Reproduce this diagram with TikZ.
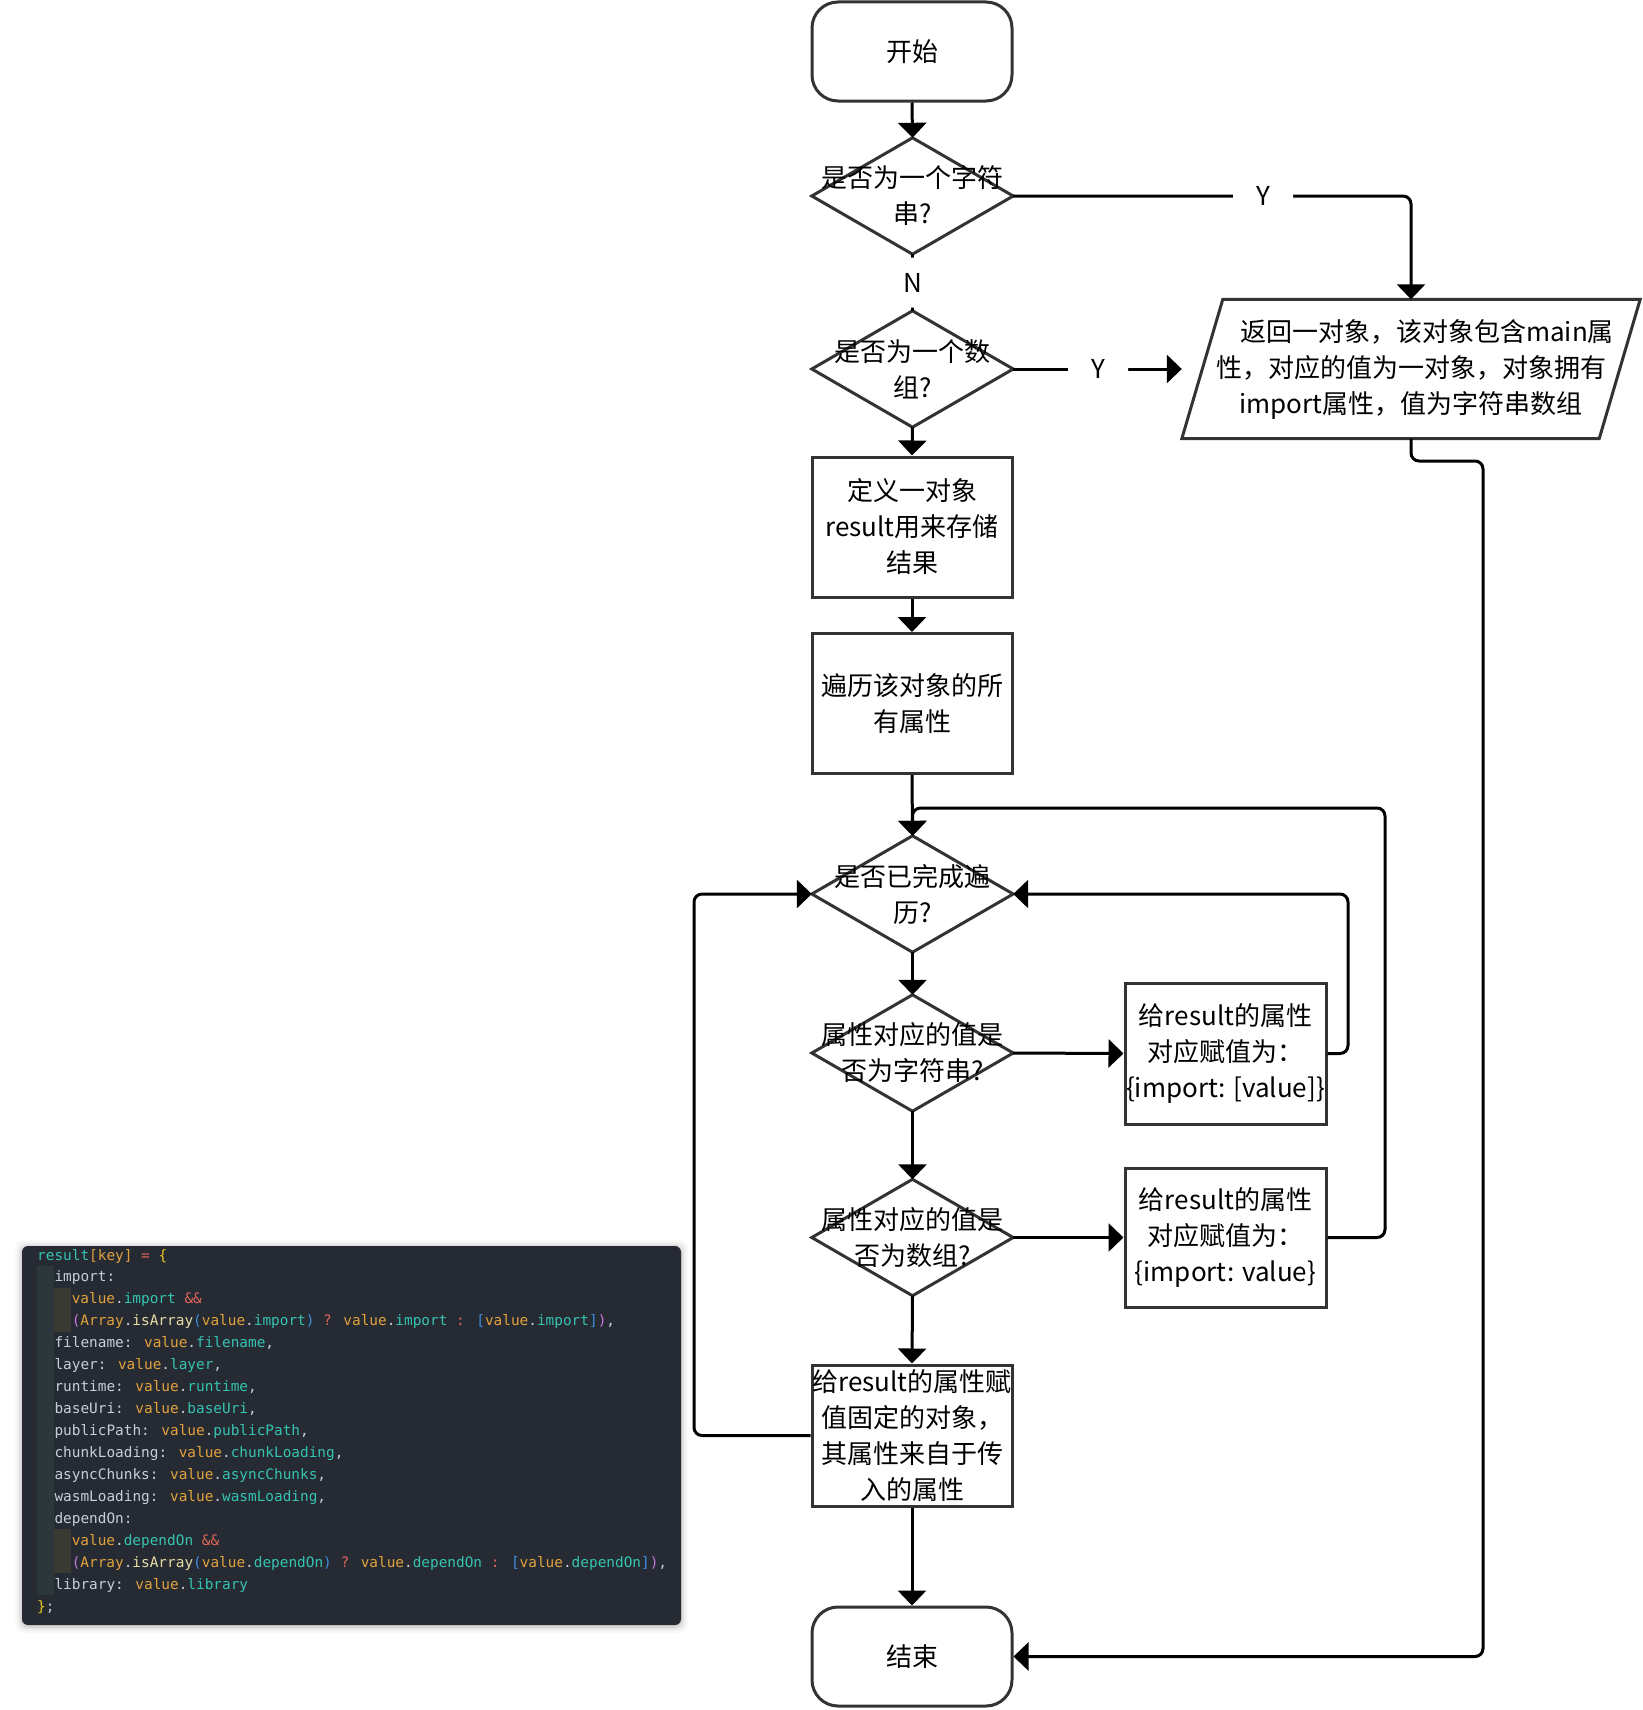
\documentclass[tikz,border=0pt]{standalone}
\usepackage{fontspec}
\newfontfamily\cjk{Noto Sans CJK SC}
\newfontfamily\codefont{DejaVu Sans Mono}
\usetikzlibrary{arrows.meta,calc,backgrounds}

\definecolor{edge}{HTML}{333333}
\definecolor{panel}{HTML}{262A33}
\definecolor{bandA}{HTML}{2C373C}
\definecolor{bandB}{HTML}{393B32}
\definecolor{kteal}{HTML}{35C3B2}
\definecolor{kgold}{HTML}{E2A23C}
\definecolor{kred}{HTML}{E0665A}
\definecolor{kmag}{HTML}{C678DD}
\definecolor{kblue}{HTML}{3D8FE0}
\definecolor{kyel}{HTML}{E8C51C}
\definecolor{kplain}{HTML}{C9CED6}
\definecolor{kcream}{HTML}{E9DDA6}

% token colours for the code listing
\newcommand{\ktl}[1]{\textcolor{kteal}{#1}}
\newcommand{\kgd}[1]{\textcolor{kgold}{#1}}
\newcommand{\krd}[1]{\textcolor{kred}{#1}}
\newcommand{\kmg}[1]{\textcolor{kmag}{#1}}
\newcommand{\kbl}[1]{\textcolor{kblue}{#1}}
\newcommand{\kyl}[1]{\textcolor{kyel}{#1}}
\newcommand{\kpl}[1]{\textcolor{kplain}{#1}}
\newcommand{\kcr}[1]{\textcolor{kcream}{#1}}

\begin{document}
\begin{tikzpicture}[x=1pt,y=-1pt,
  txt/.style={font=\cjk\fontsize{26}{36}\selectfont, align=center, inner sep=0pt},
  proc/.style={txt, draw=edge, line width=3pt, minimum width=200pt, minimum height=140pt, fill=white},
  term/.style={proc, rounded corners=26pt, minimum height=99pt},
  dec/.style={txt, minimum width=201pt, minimum height=116pt},
  shapeline/.style={draw=edge, line width=3pt},
  conn/.style={line width=3pt, black, rounded corners=8pt},
  arr/.style={conn, -{Triangle[width=28pt,length=15pt]}},
  lbl/.style={txt, fill=white},
  code/.style={anchor=base west, inner sep=0pt, font=\codefont\fontsize{14.4}{18}\selectfont, text=kplain}
]
\useasboundingbox (0,0) rectangle (1642,1710);

% ---------- code listing panel ----------
\foreach \k/\o in {7/0.025,5/0.035,3/0.05,1.5/0.07}
  \fill[black, opacity=\o, rounded corners=8pt] (22-\k,1246-\k+1) rectangle (681+\k,1625+\k+1);
\fill[panel, rounded corners=6pt] (22,1246) rectangle (681,1625);
\fill[bandA] (37,1266) rectangle (54,1595);
\fill[bandB] (54,1288) rectangle (71,1332);
\fill[bandB] (54,1529) rectangle (71,1573);

\node[code] (c1)  at (37,1260)    {\ktl{result}\kgd{[key]} \krd{=} \kyl{\{}};
\node[code] (c2)  at (54.3,1281.9) {import:};
\node[code] (c3)  at (71.6,1303.9) {\kgd{value}.\ktl{import} \krd{\&\&}};
\node[code] (c4)  at (71.6,1325.8) {\kmg{(}\kgd{Array}.\kcr{isArray}\kbl{(}\kgd{value}.\ktl{import}\kbl{)} \krd{?} \kgd{value}.\ktl{import} \krd{:} \kbl{[}\kgd{value}.\ktl{import}\kbl{]}\kmg{)},};
\node[code] (c5)  at (54.3,1347.8) {filename: \kgd{value}.\ktl{filename},};
\node[code] (c6)  at (54.3,1369.7) {layer: \kgd{value}.\ktl{layer},};
\node[code] (c7)  at (54.3,1391.6) {runtime: \kgd{value}.\ktl{runtime},};
\node[code] (c8)  at (54.3,1413.6) {baseUri: \kgd{value}.\ktl{baseUri},};
\node[code] (c9)  at (54.3,1435.5) {publicPath: \kgd{value}.\ktl{publicPath},};
\node[code] (c10) at (54.3,1457.5) {chunkLoading: \kgd{value}.\ktl{chunkLoading},};
\node[code] (c11) at (54.3,1479.4) {asyncChunks: \kgd{value}.\ktl{asyncChunks},};
\node[code] (c12) at (54.3,1501.3) {wasmLoading: \kgd{value}.\ktl{wasmLoading},};
\node[code] (c13) at (54.3,1523.3) {dependOn:};
\node[code] (c14) at (71.6,1545.2) {\kgd{value}.\ktl{dependOn} \krd{\&\&}};
\node[code] (c15) at (71.6,1567.2) {\kmg{(}\kgd{Array}.\kcr{isArray}\kbl{(}\kgd{value}.\ktl{dependOn}\kbl{)} \krd{?} \kgd{value}.\ktl{dependOn} \krd{:} \kbl{[}\kgd{value}.\ktl{dependOn}\kbl{]}\kmg{)},};
\node[code] (c16) at (54.3,1589.1) {library: \kgd{value}.\ktl{library}};
\node[code] (c17) at (37,1611)    {\kyl{\}};};

% ---------- flowchart nodes ----------
\node[term] (start) at (912,51.5) {开始};
\node[dec]  (d1) at (912.5,196) {是否为一个字符\\串?};
\node[dec]  (d2) at (912.5,369) {是否为一个数\\组?};
\node[proc] (r1) at (912,527)   {定义一对象\\result用来存储\\结果};
\node[proc] (r2) at (912,703.5) {遍历该对象的所\\有属性};
\node[dec]  (d3) at (912.5,894) {是否已完成遍\\历?};
\node[dec]  (d4) at (912.5,1053) {属性对应的值是\\否为字符串?};
\node[dec]  (d5) at (912.5,1237.5) {属性对应的值是\\否为数组?};
\node[proc, minimum width=201pt, minimum height=141pt] (bA) at (1225.5,1053.5) {给result的属性\\对应赋值为：\\\{import: [value]\}};
\node[proc, minimum width=201pt, minimum height=139pt] (bB) at (1225.5,1237.5) {给result的属性\\对应赋值为：\\\{import: value\}};
\node[proc, minimum height=141pt] (r3) at (912,1435.5) {给result的属性赋\\值固定的对象，\\其属性来自于传\\入的属性};
\node[term] (end) at (912,1656.5) {结束};
\node[txt, minimum width=458pt, minimum height=139pt] (para) at (1411,369)
  {\hspace*{32pt}返回一对象，该对象包含main属\\性，对应的值为一对象，对象拥有\\import属性，值为字符串数组};

% diamond and parallelogram outlines, kept beneath the labels
\begin{pgfonlayer}{background}
  \foreach \n in {d1,d2,d3,d4,d5}
    \draw[shapeline] (\n.north) -- (\n.east) -- (\n.south) -- (\n.west) -- cycle;
  \draw[shapeline] ($(para.north west)+(41,0)$) -- (para.north east)
    -- ($(para.south east)+(-41,0)$) -- (para.south west) -- cycle;
\end{pgfonlayer}

% ---------- connectors ----------
\coordinate (loopTR) at (1385,808);
\coordinate (loopA)  at (1348,894);
\coordinate (loopL)  at (694,894);
\coordinate (loopE)  at (1483,461);

\draw[arr] (start.south) -- (d1.north);
\draw[conn] (d1.south) -- node[lbl, minimum width=30pt, minimum height=50pt] {N} (d2.north);
\draw[arr] (d1.east) -| node[lbl, pos=0.314, minimum width=60pt, minimum height=30pt] {Y} (para.north);
\draw[arr] (d2.east) -- node[lbl, pos=0.504, minimum width=60pt, minimum height=30pt] {Y} (para.west);
\draw[arr] (d2.south) -- (r1.north);
\draw[arr] (r1.south) -- (r2.north);
\draw[arr] (r2.south) -- (d3.north);
\draw[arr] (d3.south) -- (d4.north);
\draw[arr] (d4.east) -- (bA.west);
\draw[arr] (bA.east) -| (loopA) -- (d3.east);
\draw[arr] (d4.south) -- (d5.north);
\draw[arr] (d5.east) -- (bB.west);
\draw[arr] (bB.east) -| (loopTR) -| (d3.north);
\draw[arr] (d5.south) -- (r3.north);
\draw[arr] (r3.west) -| (loopL) -- (d3.west);
\draw[arr] (r3.south) -- (end.north);
\draw[arr] (para.south) |- (loopE) |- (end.east);
\end{tikzpicture}
\end{document}
